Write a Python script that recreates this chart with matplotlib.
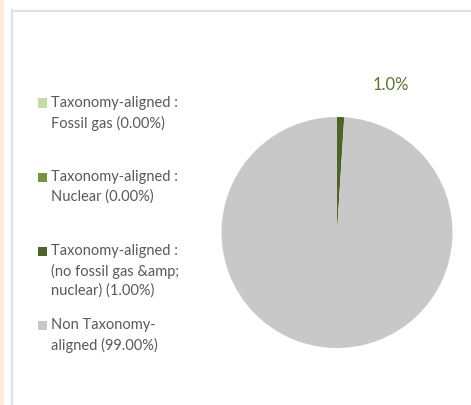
import matplotlib
matplotlib.use("Agg")
import matplotlib.pyplot as plt
from matplotlib.patches import Rectangle
from matplotlib.lines import Line2D

# Data
categories = [
    "Taxonomy-aligned :\nFossil gas (0.00%)",
    "Taxonomy-aligned :\nNuclear (0.00%)",
    "Taxonomy-aligned :\n(no fossil gas &amp;\nnuclear) (1.00%)",
    "Non Taxonomy-\naligned (99.00%)",
]
values = [0.0, 0.0, 1.0, 99.0]
colors = ["#C3DBA5", "#76923C", "#4F6228", "#C8C8C8"]
slice_label = "1.0%"

W, H = 471, 405
dpi = 100
fig = plt.figure(figsize=(W / dpi, H / dpi), dpi=dpi)
fig.patch.set_facecolor("white")

def px(x, y):
    return x / W, 1 - y / H

# decorations: left peach strip and grey frame
fig.add_artist(Rectangle((0, 0), 3.5 / W, 1, transform=fig.transFigure,
                         facecolor="#FDEADA", edgecolor="none"))
fig.add_artist(Line2D([11.5 / W, 11.5 / W], [0, 1 - 10 / H], transform=fig.transFigure,
                      color="#E2E2E2", linewidth=1.5))
fig.add_artist(Line2D([11.5 / W, 1], [1 - 10.5 / H, 1 - 10.5 / H], transform=fig.transFigure,
                      color="#E2E2E2", linewidth=1.5))

# pie axes
cx, cy, r = 337, 232.5, 115.5
ax = fig.add_axes([(cx - r) / W, 1 - (cy + r) / H, 2 * r / W, 2 * r / H])
ax.pie(values, colors=colors, startangle=90, counterclock=False, radius=1,
       wedgeprops=dict(linewidth=0))
ax.set_xlim(-1, 1)
ax.set_ylim(-1, 1)
ax.set_aspect("equal")
ax.axis("off")
ax.text(0.47, 1.28, slice_label, ha="center", va="center", fontsize=12,
        color="#5C7533", family="Lato", clip_on=False)

# legend
font = dict(fontsize=10.5, color="#595959", family="Lato")
entry_y = [103, 177, 251, 325]
line_h = 20
for cat, col, y in zip(categories, colors, entry_y):
    fig.add_artist(Rectangle(px(38, y + 4.5), 9 / W, 9 / H, transform=fig.transFigure,
                             facecolor=col, edgecolor="none"))
    for i, line in enumerate(cat.split("\n")):
        x0, y0 = px(51, y + i * line_h)
        fig.text(x0, y0, line, ha="left", va="center", **font)

fig.savefig("out.png", dpi=dpi)
